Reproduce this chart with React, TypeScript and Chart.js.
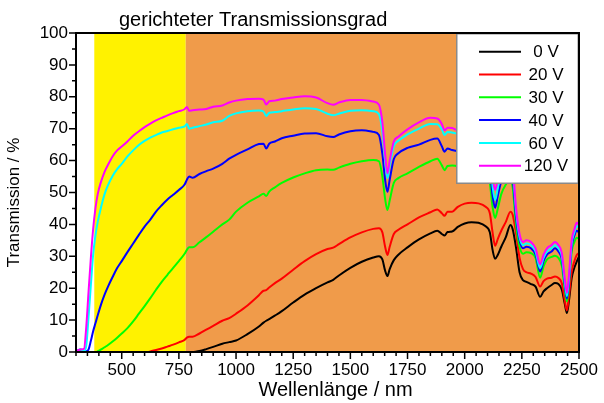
import React, { useEffect, useRef } from 'react';
import { Chart, registerables } from 'chart.js';

Chart.register(...registerables);

const FONT = "'Liberation Sans', Arial, Helvetica, sans-serif";

// Wavelength grid (nm)
const wavelengths = [
  300, 320, 335, 345, 355, 365, 375, 385, 395, 410,
  425, 440, 460, 480, 500, 525, 550, 575, 600, 625,
  650, 675, 700, 725, 750, 775, 785, 795, 810, 840,
  870, 900, 940, 970, 1000, 1050, 1100, 1120, 1132, 1145,
  1170, 1200, 1250, 1300, 1350, 1400, 1425, 1450, 1500, 1550,
  1600, 1625, 1640, 1652, 1662, 1672, 1690, 1710, 1750, 1800,
  1850, 1880, 1900, 1912, 1925, 1945, 1970, 2000, 2030, 2060,
  2090, 2110, 2122, 2133, 2145, 2160, 2180, 2200, 2210, 2225,
  2240, 2255, 2270, 2290, 2310, 2330, 2345, 2360, 2380, 2395,
  2410, 2425, 2438, 2447, 2456, 2468, 2480, 2490, 2500,
];

const t0V = [
  null, null, null, null, null, null, null, null, null, null,
  null, null, null, null, null, null, null, null, null, null,
  null, null, null, null, null, null, -0.5, -0.2, 0, 0.3,
  0.9, 1.6, 2.6, 3.1, 3.6, 5.6, 8, 9.2, 9.8, 10.3,
  11.4, 12.8, 15.5, 18, 20, 21.8, 22.6, 24, 26.4, 28.3,
  29.6, 30, 29, 25.5, 23.8, 26, 28.8, 30.5, 32.8, 35.3,
  37.2, 38, 37, 36.5, 37.6, 37.8, 39.2, 40.3, 40.7, 40.5,
  39.5, 37.5, 32, 29.2, 30.5, 33, 36, 39.8, 38.5, 32.5,
  25, 22.5, 22, 21.3, 20.5, 17.3, 19, 20, 21, 21.6,
  21.3, 19.5, 15, 12.2, 16, 23.2, 26.5, 28.3, 30,
];

const t20V = [
  null, null, null, null, null, null, null, null, null, null,
  null, null, null, null, null, null, null, null, -0.5, 0.2,
  0.6, 1.1, 1.7, 2.3, 3, 3.8, 4.5, 4.8, 4.8, 5.8,
  7, 8.2, 9.8, 10.6, 12, 14.6, 17.8, 19.2, 19.4, 20.2,
  21.6, 23, 25.8, 28.5, 30.7, 32.3, 32.7, 33.8, 35.9, 37.5,
  38.6, 38.8, 37.5, 33, 30.4, 33, 37, 38.3, 40, 42.2,
  43.8, 44.7, 43.5, 42.7, 44, 44, 45.5, 46.5, 46.8, 46.6,
  45.6, 43.5, 37.5, 33.3, 35.5, 38, 40.8, 44, 43, 37,
  29.5, 26, 25, 24.6, 23.5, 20.5, 22.2, 23, 23.3, 23.7,
  23.2, 21.5, 16, 13, 17.5, 25.2, 28.5, 30.4, 31,
];

const t30V = [
  0.3, 0.6, 0.2, -0.3, -0.5, -0.8, -0.6, -0.3, 0.2, 0.8,
  1.5, 2.2, 3.3, 4.5, 5.8, 7.5, 9.6, 12, 14.4, 16.9,
  19.5, 22, 24.2, 26.4, 28.5, 30.8, 32, 32.8, 32.8, 34.4,
  36, 37.7, 40, 41.5, 44, 46.8, 48.8, 49.6, 48.9, 50.3,
  51.6, 53, 54.7, 56, 57, 57.2, 57.1, 57.8, 59, 59.8,
  60.2, 59.8, 55, 48, 44.5, 47.5, 53, 54.5, 56, 58,
  59.8, 60.6, 58.5, 57, 58.3, 58.5, 58.3, 59.3, 60, 60,
  58.5, 53, 45.5, 42, 45, 49.5, 52.5, 54, 51.5, 39.5,
  33, 30.8, 31.3, 31, 29.5, 23.3, 26.8, 29, 29.8, 30.2,
  29.5, 27, 19.5, 15.8, 21, 31.5, 34.5, 35.8, 35.5,
];

const t40V = [
  0.3, 0.8, 0.3, 0.2, 0.8, 3.5, 6.5, 9, 11.5, 15,
  18, 20.5, 23.5, 26.3, 28.5, 31.3, 34, 36.7, 39.3, 41.5,
  44, 46, 47.8, 49.3, 50.8, 52.5, 54, 55, 54.6, 55.8,
  56.7, 57.5, 59, 60.6, 61.8, 63.5, 65.2, 65.3, 63.8, 65.3,
  66, 67, 67.8, 68.5, 68.6, 67.6, 67.4, 68.2, 69.2, 69.5,
  69, 68, 62, 54, 50.2, 54, 60.5, 62.3, 64, 65,
  66.5, 66.9, 64.5, 62.8, 63.8, 63.3, 63, 63.8, 64.5, 64.3,
  62.5, 57, 49, 45.2, 49, 53.5, 56, 57, 54.5, 42,
  35, 32.5, 33, 32.5, 30.5, 25.2, 28.5, 30.5, 31.5, 32.5,
  31.5, 29, 21, 16.8, 22, 33, 36.5, 38, 37.5,
];

const t60V = [
  0.3, 0.8, 0.3, 2, 11, 21, 30.5, 36.5, 40.8, 45.5,
  49.5, 52.3, 55.2, 57.3, 59, 61.3, 63.2, 64.9, 66.2, 67.2,
  68, 68.8, 69.3, 69.8, 70.3, 70.7, 71.5, 70, 70.3, 70.8,
  71.3, 72, 72.5, 74, 74.8, 75.5, 75.7, 75.4, 74, 75,
  75.2, 75.5, 76, 76.4, 76.2, 74.7, 74.2, 74.7, 75.6, 75.8,
  75.5, 74.5, 69, 60, 54.5, 58.5, 64.5, 66.2, 68.2, 70,
  71.5, 71.4, 69.8, 68, 69, 68.8, 68.5, 68.8, 69.2, 69,
  67.5, 62, 52, 47.6, 51.5, 56, 58.5, 59.5, 57, 44,
  36, 33.5, 34, 33.5, 31.5, 26.3, 29.5, 31.5, 32.5, 33.5,
  32.5, 30, 22, 17.5, 23, 34, 37.5, 39.5, 39,
];

const t120V = [
  0.3, 0.8, 1, 8, 19, 29.5, 38.5, 45, 49.5, 53.5,
  56.5, 58.7, 61.3, 63.2, 64.4, 66, 67.8, 69.2, 70.5, 71.6,
  72.6, 73.4, 74.2, 74.9, 75.5, 76.1, 76.8, 75.6, 75.8, 76,
  76.2, 76.9, 77.3, 78.2, 78.8, 79.3, 79.4, 79.1, 77.6, 78.6,
  78.8, 79.3, 79.8, 80.2, 79.8, 78, 77.5, 78.2, 79, 79,
  78.5, 77.5, 72, 62, 56, 60, 66, 67.5, 69.8, 72,
  73.4, 73.2, 71.5, 69.5, 70.3, 70.2, 69.5, 70, 70.5, 70.2,
  69, 64, 55, 50.8, 54, 58, 60, 61, 58, 45,
  37, 34.5, 35, 34.5, 32.5, 27.5, 30.5, 32.5, 33.5, 34.5,
  33.5, 31, 23, 18.5, 24, 35, 38.5, 40.5, 40,
];

const seriesValues = [t0V, t20V, t30V, t40V, t60V, t120V];
const seriesLabels = ['0 V', '20 V', '30 V', '40 V', '60 V', '120 V'];
const seriesColors = ['#000000', '#ff0000', '#00ff00', '#0000ff', '#00ffff', '#ff00ff'];

const xTickValues = [500, 750, 1000, 1250, 1500, 1750, 2000, 2250, 2500];
const yTickValues = [0, 10, 20, 30, 40, 50, 60, 70, 80, 90, 100];
const xMinorStep = 50;
const yMinorStep = 5;
const xRange = [300, 2500];
const yRange = [0, 100];

// spectral bands: visible (380-780 nm) and near infrared (780-2500 nm)
const bandEdges = [380, 780, 2500];
const bandColors = ['#fff200', '#f09b4a'];

const titleText = 'gerichteter Transmissionsgrad';
const xTitleText = 'Wellenlänge / nm';
const yTitleText = 'Transmission / %';

const bandsPlugin = {
  id: 'bands',
  beforeDatasetsDraw(chart: any) {
    const { ctx, chartArea: a, scales } = chart;
    const x = scales.x;
    ctx.save();
    for (let i = 0; i < bandColors.length; i++) {
      const x0 = x.getPixelForValue(bandEdges[i]);
      const x1 = x.getPixelForValue(bandEdges[i + 1]);
      ctx.fillStyle = bandColors[i];
      ctx.fillRect(x0, a.top, x1 - x0, a.bottom - a.top);
    }
    ctx.restore();
  },
};

const decorPlugin = {
  id: 'decor',
  afterDatasetsDraw(chart: any) {
    const { ctx, chartArea: a, scales } = chart;
    const x = scales.x;
    const y = scales.y;
    ctx.save();

    // legend box
    const lw = 123;
    const lh = 151;
    const L = a.right - lw;
    const T = a.top;
    ctx.fillStyle = '#ffffff';
    ctx.fillRect(L, T, lw, lh);
    ctx.strokeStyle = '#8a8a8a';
    ctx.lineWidth = 1.5;
    ctx.strokeRect(L + 0.75, T + 0.75, lw - 1.5, lh - 1.5);
    ctx.font = `17px ${FONT}`;
    ctx.textAlign = 'center';
    ctx.textBaseline = 'middle';
    for (let i = 0; i < seriesLabels.length; i++) {
      const ry = T + 18.7 + i * 22.8;
      ctx.strokeStyle = seriesColors[i];
      ctx.lineWidth = 2;
      ctx.beginPath();
      ctx.moveTo(L + 23, ry);
      ctx.lineTo(L + 65, ry);
      ctx.stroke();
      ctx.fillStyle = '#000';
      ctx.fillText(seriesLabels[i], L + 90, ry + 1);
    }

    // frame
    ctx.strokeStyle = '#000';
    ctx.lineWidth = 2;
    ctx.strokeRect(a.left, a.top, a.right - a.left, a.bottom - a.top);

    // ticks
    ctx.lineWidth = 1.5;
    ctx.beginPath();
    for (let v = xRange[0]; v <= xRange[1]; v += xMinorStep) {
      const px = x.getPixelForValue(v);
      const major = xTickValues.includes(v);
      ctx.moveTo(px, a.bottom);
      ctx.lineTo(px, a.bottom + (major ? 7 : 4));
    }
    for (let v = yRange[0]; v <= yRange[1]; v += yMinorStep) {
      const py = y.getPixelForValue(v);
      const major = yTickValues.includes(v);
      ctx.moveTo(a.left, py);
      ctx.lineTo(a.left - (major ? 7 : 4), py);
    }
    ctx.stroke();

    // titles
    ctx.fillStyle = '#000';
    ctx.textBaseline = 'alphabetic';
    ctx.textAlign = 'left';
    ctx.font = `20px ${FONT}`;
    ctx.fillText(titleText, a.left + 43, a.top - 7.5);

    ctx.textAlign = 'center';
    ctx.font = `20px ${FONT}`;
    ctx.fillText(xTitleText, (a.left + a.right) / 2 + 8, a.bottom + 43.5);

    ctx.translate(14.5, (a.top + a.bottom) / 2 + 10);
    ctx.rotate(-Math.PI / 2);
    ctx.textBaseline = 'middle';
    ctx.font = `17px ${FONT}`;
    ctx.fillText(yTitleText, 0, 0);
    ctx.restore();
  },
};

export default function App() {
  const ref = useRef<HTMLCanvasElement | null>(null);

  useEffect(() => {
    if (!ref.current) return;
    const datasets = seriesValues.map((vals, i) => ({
      label: seriesLabels[i],
      data: wavelengths.map((w, j) => ({ x: w, y: vals[j] })),
      borderColor: seriesColors[i],
      backgroundColor: seriesColors[i],
      borderWidth: 2,
      pointRadius: 0,
      cubicInterpolationMode: 'monotone' as const,
      spanGaps: false,
      order: seriesLabels.length - i,
    }));

    const chart = new Chart(ref.current, {
      type: 'line',
      data: { datasets },
      plugins: [bandsPlugin, decorPlugin],
      options: {
        responsive: false,
        animation: false,
        events: [],
        layout: { padding: { left: 0, right: 25, top: 33, bottom: 0 } },
        plugins: {
          legend: { display: false },
          title: { display: false },
          tooltip: { enabled: false },
        },
        scales: {
          x: {
            type: 'linear',
            min: xRange[0],
            max: xRange[1],
            grid: { display: false, drawTicks: true, tickLength: 8 },
            border: { display: false },
            ticks: {
              padding: 0,
              color: '#000',
              font: { family: FONT, size: 17 },
              maxRotation: 0,
              autoSkip: false,
              callback: (v: any) => String(v),
            },
            afterBuildTicks: (scale: any) => {
              scale.ticks = xTickValues.map((v) => ({ value: v }));
            },
            afterFit: (scale: any) => {
              scale.height = 51;
            },
          },
          y: {
            type: 'linear',
            min: yRange[0],
            max: yRange[1],
            grid: { display: false, drawTicks: true, tickLength: 8 },
            border: { display: false },
            ticks: {
              padding: 0,
              color: '#000',
              font: { family: FONT, size: 17 },
              autoSkip: false,
              callback: (v: any) => String(v),
            },
            afterBuildTicks: (scale: any) => {
              scale.ticks = yTickValues.map((v) => ({ value: v }));
            },
            afterFit: (scale: any) => {
              scale.width = 76;
            },
          },
        },
      },
    });
    return () => chart.destroy();
  }, []);

  return (
    <div style={{ position: 'fixed', left: 0, top: 0, width: 604, height: 403, background: '#fff' }}>
      <canvas ref={ref} width={604} height={403} style={{ display: 'block' }} />
    </div>
  );
}
